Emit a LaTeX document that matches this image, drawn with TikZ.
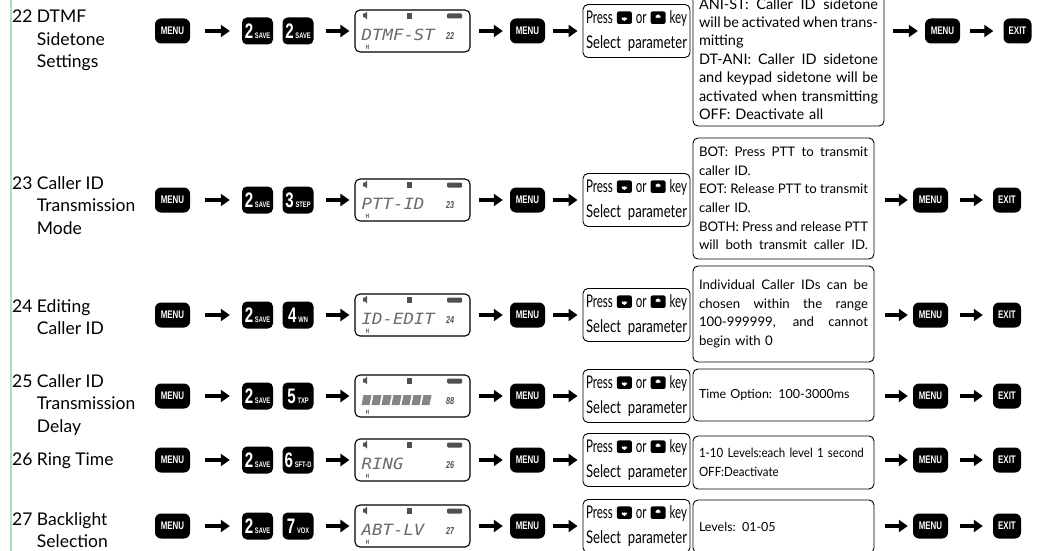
\documentclass[tikz,border=0pt]{standalone}
\usepackage{fontspec}
\setmainfont{Lato}
\newfontfamily\narrowfont[FakeStretch=0.75]{Lato}
\newfontfamily\pressfont[FakeStretch=0.66]{Lato}
\newfontfamily\descnarrow[FakeStretch=0.9]{Lato}
\newfontfamily\keyfont[FakeStretch=0.72]{Liberation Sans}
\newfontfamily\lcdfont[FakeStretch=1.12]{DejaVu Sans Mono}
\usepackage{tikz}
\usetikzlibrary{arrows.meta, positioning}
\definecolor{ruleGreen}{RGB}{176,226,186}
\definecolor{lcdInk}{RGB}{80,80,80}
\newcommand{\jline}[2][169pt]{\makebox[#1][s]{\spaceskip=\fontdimen2\font plus 1fil minus 0.4\fontdimen2\font\relax #2}}
\newcommand{\keylab}[2]{{\fontsize{21}{21}\selectfont #1}\,{\fontsize{8}{8}\selectfont #2}}
\newcommand{\selkey}[1]{\tikz[x=1pt,y=1pt,baseline=-1pt]{%
  \fill[rounded corners=2pt] (0,-1.5) rectangle (15,11);
  \ifx u#1\fill[white] (3,1.5) -- (12,1.5) -- (7.5,7.5) -- cycle;
  \else\fill[white] (3,8) -- (12,8) -- (7.5,2) -- cycle;\fi}}
\newcommand{\lcdpanel}[5]{% name, x, y, text, number
  \node[lcd] (#1) at (#2,#3) {};
  \begin{scope}[shift={(#2,#3)}]
    \fill[lcdInk] (-49.5,-17.5) rectangle (-47.5,-13.5)
      (-47.5,-17.5) -- (-45.5,-19.5) -- (-45.5,-11.5) -- (-47.5,-13.5) -- cycle;
    \fill[lcdInk] (-5.5,-18) rectangle (-0.5,-12);
    \fill[lcdInk, rounded corners=1pt] (34.5,-17.5) rectangle (49.5,-12.5);
    \node[lcdtext, anchor=west] at (-51,4) {#4};
    \node[lcdnum] at (37.5,5) {#5};
    \node[lcdflag] at (-45,16.5) {H};
  \end{scope}}

\begin{document}
\begin{tikzpicture}[x=1pt, y=-1pt,
    btn/.style={fill=black, text=white, rounded corners=6pt, minimum width=35pt,
      minimum height=25pt, inner sep=0pt, font=\keyfont\bfseries\fontsize{11}{11}\selectfont},
    numbtn/.style={btn, minimum width=31pt, minimum height=27pt, rounded corners=5pt},
    lcd/.style={draw, line width=1.1pt, rounded corners=5pt, minimum width=115pt,
      minimum height=42pt, inner sep=0pt},
    lcdtext/.style={font=\lcdfont\itshape\fontsize{15.5}{16}\selectfont, text=lcdInk!85, inner sep=0pt},
    lcdnum/.style={font=\keyfont\bfseries\itshape\fontsize{10}{10}\selectfont, text=lcdInk, inner sep=0pt},
    lcdflag/.style={font=\keyfont\bfseries\fontsize{6.5}{6.5}\selectfont, text=lcdInk, inner sep=0pt},
    selbox/.style={draw, line width=0.9pt, rounded corners=5pt, minimum width=107pt,
      minimum height=53pt, text width=101pt, inner sep=3pt, align=left,
      font=\narrowfont\fontsize{17.5}{25}\selectfont},
    descbox/.style={draw, line width=0.9pt, rounded corners=5pt, inner sep=6pt,
      text width=169pt, align=left, font=\fontsize{13.2}{18.6}\selectfont},
    rowlab/.style={anchor=north west, inner sep=0pt, align=left,
      font=\fontsize{17.5}{22.5}\selectfont},
    flow/.style={line width=4.5pt, -{Triangle[length=9pt,width=12pt]},
      shorten <=8pt, shorten >=7pt}
  ]
  \useasboundingbox (0,0) rectangle (1038,551);
  \clip (0,0) rectangle (1038,551);
  \draw[ruleGreen, line width=1.4pt] (11,0) -- (11,551);

  % row titles
  \node[rowlab] (t22) at (12,10) {22 DTMF\\\hphantom{22 }Sidetone\\\hphantom{22 }Settings};
  \node[rowlab] (t23) at (12,176) {23 Caller ID\\\hphantom{23 }Transmission\\\hphantom{23 }Mode};
  \node[rowlab] (t24) at (12,299) {24 Editing\\\hphantom{24 }Caller ID};
  \node[rowlab] (t25) at (12,374) {25 Caller ID\\\hphantom{25 }Transmission\\\hphantom{25 }Delay};
  \node[rowlab] (t26) at (12,453) {26 Ring Time};
  \node[rowlab] (t27) at (12,512) {27 Backlight\\\hphantom{27 }Selection};

  % key sequence up to the selector box
  \foreach \rw/\y/\k/\kl/\txt/\num in {22/31/2/SAVE/DTMF-ST/22, 23/200/3/STEP/PTT-ID/23,
      24/315/4/WN/ID-EDIT/24, 25/396/5/TXP/{}/88, 26/460/6/SFT-D/RING/26, 27/526/7/VOX/ABT-LV/27} {
    \node[btn] (m\rw) at (172.5,\y) {MENU};
    \node[numbtn] (a\rw) at (257.5,\y) {\keylab{2}{SAVE}};
    \node[numbtn] (b\rw) at (298,\y) {\keylab{\k}{\kl}};
    \lcdpanel{lcd\rw}{412.5}{\y}{\txt}{\num}
    \node[btn] (n\rw) at (527.5,\y) {MENU};
    \node[selbox] (s\rw) at (636.5,\y)
      {{\pressfont\jline[101pt]{Press \selkey{u} or \selkey{d} key}}\\\jline[101pt]{Select parameter}};
    \draw[flow, shorten <=15pt, shorten >=12pt] (m\rw) -- (a\rw);
    \draw[flow, shorten <=12pt, shorten >=5pt] (b\rw) -- (lcd\rw);
    \draw[flow] (lcd\rw) -- (n\rw);
    \draw[flow, shorten >=5pt] (n\rw) -- (s\rw);
  }
  % 88 row shows all segments lit
  \begin{scope}[shift={(412.5,396)}]
    \foreach \i in {0,...,6}
      \fill[lcdInk!70] (-51+\i*10,9) -- (-43+\i*10,9) -- (-41+\i*10,-1) -- (-49+\i*10,-1) -- cycle;
  \end{scope}

  % option descriptions
  \node[descbox, text width=179pt, minimum height=134pt, font=\fontsize{14.5}{18.4}\selectfont] (d22) at (788.5,59)
    {\jline[179pt]{ANI-ST: Caller ID sidetone}\\\jline[179pt]{will be activated when trans-}\\mitting\\
     \jline[179pt]{DT-ANI: Caller ID sidetone}\\\jline[179pt]{and keypad sidetone will be}\\
     \jline[179pt]{activated when transmitting}\\OFF: Deactivate all};
  \node[descbox, minimum height=121pt] (d23) at (783.5,198.5)
    {\jline{BOT: Press PTT to transmit}\\caller ID.\\\jline{EOT: Release PTT to transmit}\\
     caller ID.\\\jline{BOTH: Press and release PTT}\\\jline{will both transmit caller ID.}};
  \node[descbox, minimum height=96pt] (d24) at (783.5,314)
    {\jline{Individual Caller IDs can be}\\\jline{chosen within the range}\\
     \jline{100-999999, and cannot}\\begin with 0};
  \node[descbox, minimum height=52pt, font=\fontsize{12.5}{18}\selectfont] (d25) at (783.5,395)
    {Time Option: 100-3000ms};
  \node[descbox, minimum height=53pt, font=\descnarrow\fontsize{12.8}{18.5}\selectfont] (d26) at (783.5,462.5)
    {1-10 Levels:each level 1 second\\OFF:Deactivate};
  \node[descbox, minimum height=53pt, font=\fontsize{12.5}{18}\selectfont] (d27) at (783.5,526.5)
    {Levels: 01-05};

  % confirm and leave
  \node[btn] (e22) at (942.5,31) {MENU};
  \node[btn, minimum width=28pt] (x22) at (1017.5,31) {EXIT};
  \draw[flow, shorten <=9pt] (d22.east |- e22) -- (e22);
  \draw[flow, shorten <=10pt, shorten >=10pt] (e22) -- (x22);
  \foreach \rw/\y in {23/200, 24/315, 25/396, 26/460, 27/526} {
    \node[btn] (e\rw) at (930.5,\y) {MENU};
    \node[btn, minimum width=28pt] (x\rw) at (1007,\y) {EXIT};
    \draw[flow, shorten <=11pt, shorten >=5pt] (d\rw.east |- e\rw) -- (e\rw);
    \draw[flow, shorten <=12pt, shorten >=10pt] (e\rw) -- (x\rw);
  }
\end{tikzpicture}
\end{document}
